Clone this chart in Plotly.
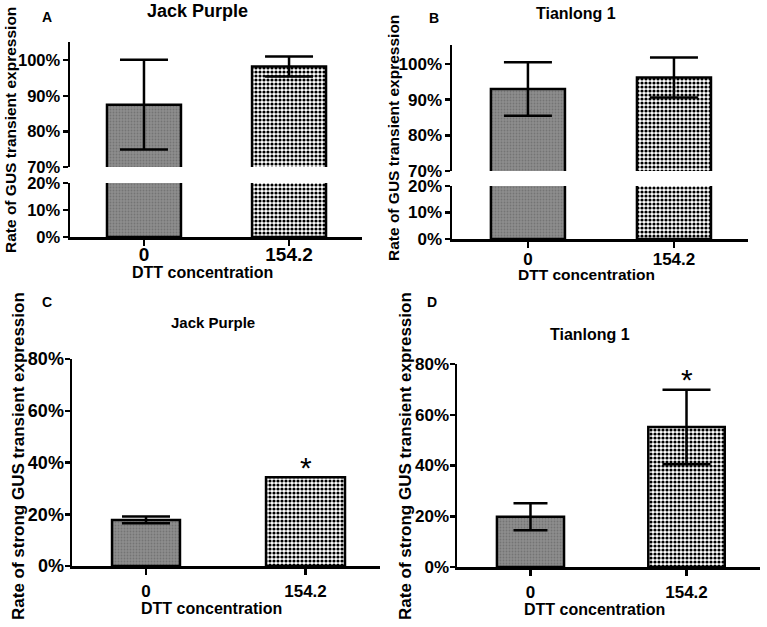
import plotly.graph_objects as go

W, H = 767, 627

# ---------------- data ----------------
categories = ["0", "154.2"]

a_title = "Jack Purple"
a_vals = [87.5, 98.2]
a_err = [12.6, 2.8]

b_title = "Tianlong 1"
b_vals = [93.0, 96.2]
b_err = [7.5, 5.6]

c_title = "Jack Purple"
c_vals = [17.8, 34.3]
c_err = [1.3, 0.0]
c_sig = ["", "*"]

d_title = "Tianlong 1"
d_vals = [19.8, 55.2]
d_err = [5.3, 14.7]
d_sig = ["", "*"]

upper_ticks = [70, 80, 90, 100]
lower_ticks = [0, 10, 20]
cd_ticks = [0, 20, 40, 60, 80]

x_title = "DTT concentration"
y_title_ab = "Rate of GUS transient expression"
y_title_cd = "Rate of strong GUS transient expression"

# ---------------- helpers ----------------
FONT = "Liberation Sans, Arial, sans-serif"


def px(x):
    return x / W


def py(y):
    return 1 - y / H


def bar_marker(i):
    if i == 0:
        return dict(color="#8c8c8c", line=dict(color="black", width=2.5),
                    pattern=dict(shape=".", fgcolor="#747474", bgcolor="#8e8e8e",
                                 size=3, solidity=0.3))
    return dict(color="white", line=dict(color="black", width=2.5),
                pattern=dict(shape=".", fgcolor="#000000", bgcolor="white",
                             size=4, solidity=0.5))


fig = go.Figure()


def add_bars(vals, errs, widths, caps, xa, ya, show_err=True):
    for i, cat in enumerate(categories):
        err_on = show_err and errs[i] > 0
        fig.add_trace(go.Bar(
            x=[cat], y=[vals[i]], width=[widths[i]],
            marker=bar_marker(i), xaxis=xa, yaxis=ya, showlegend=False,
            hoverinfo="skip",
            error_y=dict(type="data", array=[errs[i]], arrayminus=[errs[i]],
                         symmetric=False, color="black", thickness=2.5,
                         width=caps[i], visible=err_on),
        ))


def yaxis_def(domain, anchor, rng, ticks, fsize, standoff=0):
    return dict(domain=domain, anchor=anchor, range=rng, tickvals=ticks,
                ticktext=[f"{t}%" for t in ticks], showline=True,
                linecolor="black", linewidth=2.5, ticks="outside", ticklen=5,
                tickwidth=2.5, tickcolor="black", showgrid=False, zeroline=False,
                tickfont=dict(family=FONT, size=fsize, color="black", weight="bold"),
                ticklabelstandoff=standoff, fixedrange=True, automargin=False)


def xaxis_def(domain, anchor, rng, fsize, standoff):
    return dict(domain=domain, anchor=anchor, range=rng, type="category",
                categoryorder="array", categoryarray=categories, showline=True,
                linecolor="black", linewidth=2.5, ticks="outside", ticklen=6,
                tickwidth=2.5, tickcolor="black", showgrid=False, zeroline=False,
                tickfont=dict(family=FONT, size=fsize, color="black", weight="bold"),
                ticklabelstandoff=standoff, fixedrange=True, automargin=False)


# Panel A (broken axis)
add_bars(a_vals, a_err, [0.51, 0.51], [24, 24], "x", "y", show_err=False)
add_bars(a_vals, a_err, [0.51, 0.51], [24, 24], "x", "y2")
# Panel B (broken axis)
add_bars(b_vals, b_err, [0.507, 0.507], [24, 24], "x2", "y3", show_err=False)
add_bars(b_vals, b_err, [0.507, 0.507], [24, 24], "x2", "y4")
# Panel C
add_bars(c_vals, c_err, [0.426, 0.495], [24, 24], "x3", "y5")
# Panel D
add_bars(d_vals, d_err, [0.43, 0.49], [17, 24], "x4", "y6")

layout = dict(
    template="none",
    width=W, height=H, margin=dict(l=0, r=0, t=0, b=0, pad=0),
    paper_bgcolor="white", plot_bgcolor="white", barmode="overlay",
    showlegend=False, hovermode=False,
    xaxis=xaxis_def([px(70), px(362)], "y", [-0.51, 1.503], 19, -7),
    yaxis=yaxis_def([py(237), py(183)], "x", [0, 20], lower_ticks, 16.5, -1),
    yaxis2=yaxis_def([py(167), py(42)], "x", [70, 105.1], upper_ticks, 16.5, -1),
    xaxis2=xaxis_def([px(452), px(748)], "y3", [-0.52, 1.507], 17, -3),
    yaxis3=yaxis_def([py(239), py(186)], "x2", [0, 20], lower_ticks, 17, -1),
    yaxis4=yaxis_def([py(171), py(45)], "x2", [70, 105.3], upper_ticks, 17, -1),
    xaxis3=xaxis_def([px(72), px(380)], "y5", [-0.464, 1.467], 17, 2),
    yaxis5=yaxis_def([py(566), py(359)], "x3", [0, 80], cd_ticks, 18, -3),
    xaxis4=xaxis_def([px(457), px(760)], "y6", [-0.471, 1.471], 17, 2),
    yaxis6=yaxis_def([py(567), py(364)], "x4", [0, 80], cd_ticks, 17, -3),
)
fig.update_layout(**layout)

ann = []


def txt(x, y, text, size, bold=True, angle=0):
    ann.append(dict(x=px(x), y=py(y), xref="paper", yref="paper", text=text,
                    showarrow=False, xanchor="center", yanchor="middle",
                    textangle=angle,
                    font=dict(family=FONT, size=size, color="black",
                              weight="bold" if bold else "normal")))


# panel titles
txt(197, 11, a_title, 18)
txt(576, 13, b_title, 16)
txt(213, 322, c_title, 15)
txt(590, 334, d_title, 16)
# panel letters
txt(47, 17, "A", 14)
txt(434, 18, "B", 14)
txt(47, 302, "C", 14)
txt(432, 302, "D", 14)
# x titles
txt(202, 272, x_title, 16)
txt(586, 274, x_title, 15.5)
txt(211, 608, x_title, 16)
txt(594, 609, x_title, 16)
# y titles
txt(10, 130, y_title_ab, 15.5, angle=-90)
txt(393, 138, y_title_ab, 15.5, angle=-90)
txt(18, 456, y_title_cd, 17, angle=-90)
txt(405, 456, y_title_cd, 17, angle=-90)

# significance marks
for vals, errs, sig, xa, ya in [(c_vals, c_err, c_sig, "x3", "y5"),
                                (d_vals, d_err, d_sig, "x4", "y6")]:
    for i, s in enumerate(sig):
        if s:
            ann.append(dict(x=i, y=vals[i] + errs[i], xref=xa, yref=ya,
                            text=s, showarrow=False, xanchor="center",
                            yanchor="middle", yshift=10,
                            font=dict(family=FONT, size=30, color="black")))

fig.update_layout(annotations=ann)
fig.write_html("out.html", config={"displayModeBar": False, "staticPlot": True},
               post_script="document.body.style.margin='0px';")
